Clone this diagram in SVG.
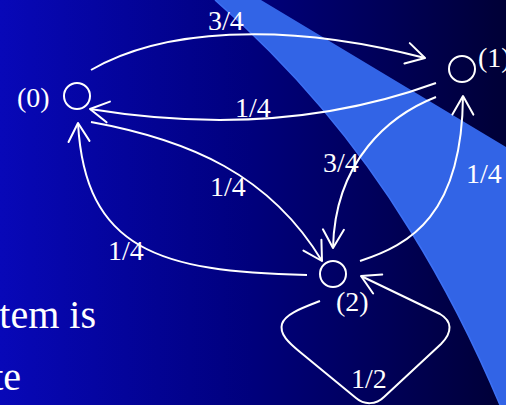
<svg xmlns="http://www.w3.org/2000/svg" width="506" height="405" viewBox="0 0 506 405">
  <defs>
    <linearGradient id="bg" x1="0" y1="0" x2="1" y2="0">
      <stop offset="0" stop-color="#0808b8"/>
      <stop offset="0.5" stop-color="#00007c"/>
      <stop offset="1" stop-color="#000036"/>
    </linearGradient>
    <marker id="arr" viewBox="-22 -13 24 26" refX="0" refY="0" markerWidth="24" markerHeight="26" markerUnits="userSpaceOnUse" orient="auto" overflow="visible">
      <path d="M-18.5,-10.5 L0,0 L-18.5,10.5" fill="none" stroke="#fff" stroke-width="2" stroke-linecap="round" stroke-linejoin="round"/>
    </marker>
    <style>
      .edge { fill: none; stroke: #fff; stroke-width: 2; marker-end: url(#arr); }
      .node { fill: none; stroke: #fff; stroke-width: 2; }
      .lbl { font-family: "Liberation Serif", "Times New Roman", serif; font-size: 28px; fill: #fff; }
      .body { font-family: "Liberation Serif", "Times New Roman", serif; font-size: 40px; fill: #fff; }
    </style>
  </defs>

  <g id="background">
    <rect x="0" y="0" width="506" height="405" fill="url(#bg)"/>
    <path d="M215,0 L261,0 L506,147 L506,405 L500,405 Q460,310 410,230 Q330,100 215,0 Z" fill="#3264e6"/>
    <path d="M215,0 Q330,100 410,230 Q460,310 500,405" fill="none" stroke="#3c70f4" stroke-width="1.5"/>
  </g>

  <g id="slide-text">
    <text class="body" x="96" y="328" text-anchor="end">tem is</text>
    <text class="body" x="21" y="390" text-anchor="end">te</text>
  </g>

  <g id="connectors">
    <path id="e01" class="edge" d="M91,70 C160,30 280,20 425,58"/>
    <text class="lbl" x="208" y="30">3/4</text>

    <path id="e10" class="edge" d="M436,83 Q280,140 90,109"/>
    <text class="lbl" x="235" y="117">1/4</text>

    <path id="e02" class="edge" d="M91,122 C190,140 270,175 322,261"/>
    <text class="lbl" x="210" y="196">1/4</text>

    <path id="e20" class="edge" d="M307,275 C160,272 85,250 78,123"/>
    <text class="lbl" x="108" y="260">1/4</text>

    <path id="e12" class="edge" d="M436,97 C390,115 335,160 333,248"/>
    <text class="lbl" x="323" y="172">3/4</text>

    <path id="e21" class="edge" d="M360,261 C410,245 462,215 463,96"/>
    <text class="lbl" x="466" y="183">1/4</text>

    <path id="e22" class="edge" d="M320,301 C302,308 285,314 282,324 C279,334 289,343 300,352 L356,398 C364,405 376,405 384,397 L441,344 C453,332 452,321 440,314 L361,276"/>
    <text class="lbl" x="351" y="388">1/2</text>
  </g>

  <g id="node0">
    <circle class="node" cx="77" cy="96" r="13"/>
    <text class="lbl" x="17" y="107">(0)</text>
  </g>
  <g id="node1">
    <circle class="node" cx="462" cy="69" r="13"/>
    <text class="lbl" x="478" y="67">(1)</text>
  </g>
  <g id="node2">
    <circle class="node" cx="333" cy="274" r="13"/>
    <text class="lbl" x="336" y="311">(2)</text>
  </g>
</svg>
